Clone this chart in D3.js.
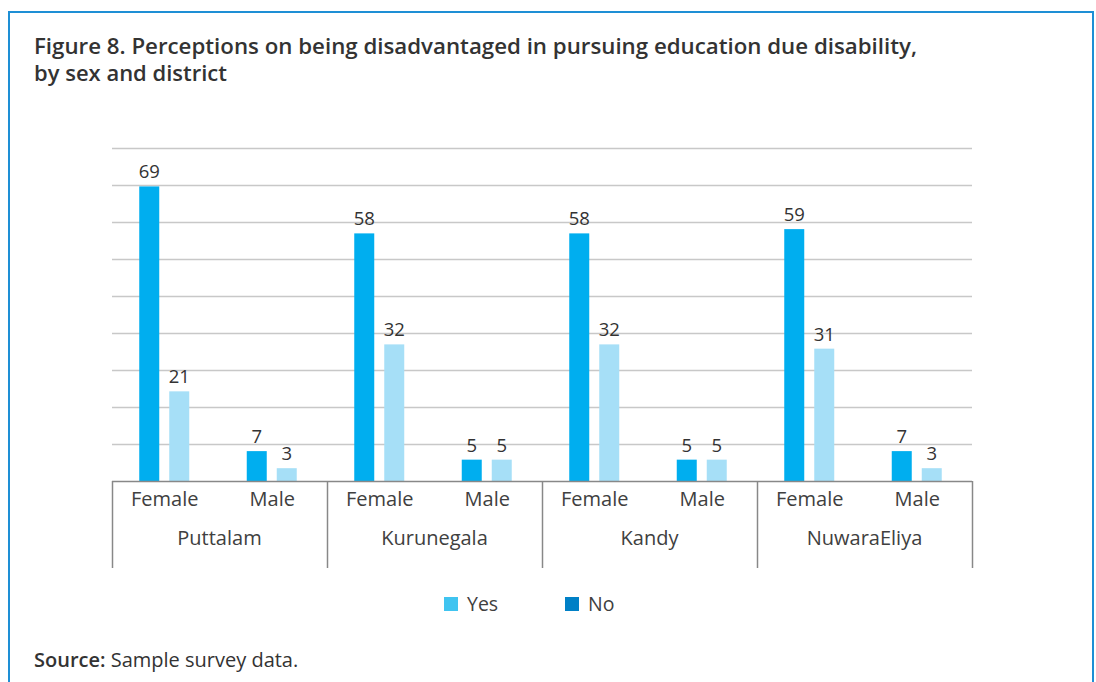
<!DOCTYPE html>
<html><head><meta charset="utf-8">
<script src="https://cdn.jsdelivr.net/npm/d3@7"></script>
<style>body{margin:0;background:#fff;} svg{display:block;font-family:"Open Sans",sans-serif;}</style>
</head><body>
<svg id="c" width="1096" height="682"></svg>
<script>
const districts = ["Puttalam", "Kurunegala", "Kandy", "NuwaraEliya"];
const sexes = ["Female", "Male"];
const seriesOrder = ["No", "Yes"];          // bar order within each pair
const legendOrder = ["Yes", "No"];
// values per district, per sex (Female, Male)
const noValues  = [[69, 7], [58, 5], [58, 5], [59, 7]];
const yesValues = [[21, 3], [32, 5], [32, 5], [31, 3]];
const yMax = 78;
const gridCount = 9;
const titleLines = ["Figure 8. Perceptions on being disadvantaged in pursuing education due disability,", "by sex and district"];

(function () {
const data = [];
districts.forEach((d, i) => sexes.forEach((s, j) => {
  data.push({district: d, sex: s, series: "No", value: noValues[i][j]});
  data.push({district: d, sex: s, series: "Yes", value: yesValues[i][j]});
}));

const barColor = {No: "#00AEEF", Yes: "#A6DFF7"};
const legendColor = {Yes: "#40C4F0", No: "#0080C6"};
const svg = d3.select("#c");

// frame
svg.append("rect").attr("x", 9).attr("y", 12).attr("width", 1084).attr("height", 700)
  .attr("fill", "none").attr("stroke", "#1E8FD5").attr("stroke-width", 2);

// title
const titleW = [883, 193];
svg.append("g").selectAll("text").data(titleLines).join("text")
  .attr("x", 34).attr("y", (d, i) => 54 + i * 27)
  .attr("font-size", 21.5).attr("font-weight", 600).attr("fill", "#333")
  .attr("textLength", (d, i) => titleW[i]).attr("lengthAdjust", "spacingAndGlyphs")
  .text(d => d);

const pLeft = 112, pRight = 972, pBase = 481, pTop = 148;
const x0 = d3.scaleBand().domain(districts).range([pLeft, pRight]);
const x1 = d3.scaleBand().domain(sexes).range([0, x0.bandwidth()]);
const x2 = d3.scaleBand().domain(seriesOrder)
  .range([x1.bandwidth() / 2 - 26.5, x1.bandwidth() / 2 + 23.5]).paddingInner(1 / 3);
const y = d3.scaleLinear().domain([0, yMax]).range([pBase, pTop]);

// gridlines
const grid = d3.range(1, gridCount + 1).map(i => i * yMax / gridCount);
svg.append("g").selectAll("line").data(grid).join("line")
  .attr("x1", pLeft).attr("x2", pRight)
  .attr("y1", d => Math.round(y(d)) + 0.5).attr("y2", d => Math.round(y(d)) + 0.5)
  .attr("stroke", "#c8c8c8").attr("stroke-width", 1.3);

// bars
const bx = d => x0(d.district) + x1(d.sex) + x2(d.series);
svg.append("g").selectAll("rect").data(data).join("rect")
  .attr("x", bx).attr("y", d => y(d.value))
  .attr("width", x2.bandwidth()).attr("height", d => pBase - y(d.value))
  .attr("fill", d => barColor[d.series]);

// value labels
svg.append("g").selectAll("text").data(data).join("text")
  .attr("x", d => bx(d) + x2.bandwidth() / 2).attr("y", d => y(d.value) - 8)
  .attr("text-anchor", "middle").attr("font-size", 18.5).attr("fill", "#333")
  .text(d => d.value);

// baseline and separators
svg.append("line").attr("x1", pLeft).attr("x2", pRight).attr("y1", pBase + 0.5).attr("y2", pBase + 0.5)
  .attr("stroke", "#888").attr("stroke-width", 1.5);
const seps = districts.map(d => x0(d)).concat([pRight]);
svg.append("g").selectAll("line").data(seps).join("line")
  .attr("x1", d => Math.round(d) + 0.5).attr("x2", d => Math.round(d) + 0.5)
  .attr("y1", pBase).attr("y2", 568)
  .attr("stroke", "#888").attr("stroke-width", 1.5);

// sex labels
const sexLab = [];
districts.forEach(d => sexes.forEach(s => sexLab.push({d, s})));
svg.append("g").selectAll("text").data(sexLab).join("text")
  .attr("x", e => x0(e.d) + x1(e.s) + x1.bandwidth() / 2 - 1)
  .attr("y", 506).attr("text-anchor", "middle").attr("font-size", 20).attr("fill", "#404040")
  .text(e => e.s);
// district labels
svg.append("g").selectAll("text").data(districts).join("text")
  .attr("x", d => x0(d) + x0.bandwidth() / 2).attr("y", 545)
  .attr("text-anchor", "middle").attr("font-size", 20).attr("fill", "#404040")
  .text(d => d);

// legend
const lx = {Yes: 444, No: 565};
const lg = svg.append("g").selectAll("g").data(legendOrder).join("g");
lg.append("rect").attr("x", d => lx[d]).attr("y", 597).attr("width", 14).attr("height", 14)
  .attr("fill", d => legendColor[d]);
lg.append("text").attr("x", d => lx[d] + 23).attr("y", 611).attr("font-size", 19.5).attr("fill", "#404040")
  .text(d => d);

// source
const src = svg.append("text").attr("x", 34).attr("y", 667).attr("font-size", 20).attr("fill", "#333");
src.append("tspan").attr("font-weight", 600).text("Source:");
src.append("tspan").text(" Sample survey data.");
})();
</script>
</body></html>
